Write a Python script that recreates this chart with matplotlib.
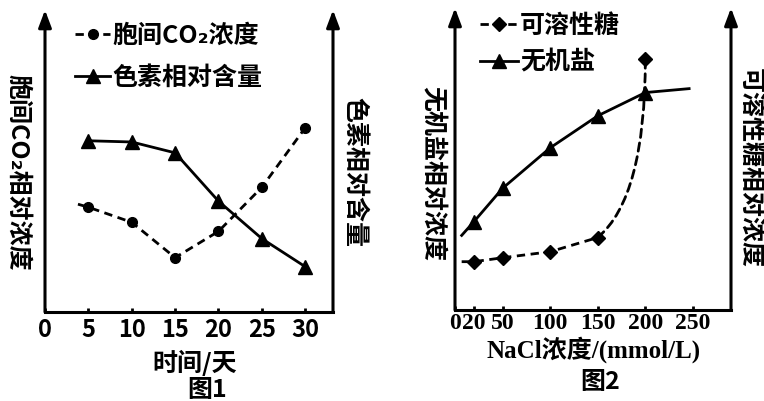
import matplotlib.pyplot as plt
from matplotlib.patches import FancyArrowPatch

plt.rcParams['font.family'] = ['Noto Sans CJK SC', 'DejaVu Sans']

# 图1: 时间/天
days = [5, 10, 15, 20, 25, 30]
co2_start = (3.8, 3.57)
co2 = [3.47, 2.97, 1.80, 2.67, 4.13, 6.10]
pigment = [5.67, 5.63, 5.27, 3.67, 2.43, 1.50]
day_ticks = [0, 5, 10, 15, 20, 25, 30]

# 图2: NaCl浓度
nacl = [20, 50, 100, 150, 200]
sugar_start = (7, 1.60)
sugar = [1.60, 1.73, 1.93, 2.40, 8.30]
salt_start = (7, 2.47)
salt = [2.93, 4.03, 5.37, 6.43, 7.20]
salt_end = (246, 7.33)
nacl_ticks = [0, 20, 50, 100, 150, 200, 250]

W, H = 764, 401
fig = plt.figure(figsize=(W / 100, H / 100), dpi=100)
ax1 = fig.add_axes([45 / W, 1 - 312 / H, (333 - 45) / W, (312 - 10) / H])
ax2 = fig.add_axes([455 / W, 1 - 310 / H, (731 - 455) / W, (310 - 8) / H])

LW = 2.0
cjk_bold = dict(family=['Noto Sans CJK SC', 'DejaVu Sans'], weight='bold')
serif_bold = dict(family=['Liberation Serif', 'Noto Sans CJK SC'], weight='bold')


def frame(ax):
    for s in ('top', 'left', 'right'):
        ax.spines[s].set_visible(False)
    ax.spines['bottom'].set_linewidth(2.2)
    for x in (0, 1):
        ax.annotate('', xy=(x, 1), xytext=(x, 0), xycoords='axes fraction',
                    arrowprops=dict(arrowstyle='-|>,head_length=0.8,head_width=0.3',
                                    lw=2.2, color='k', mutation_scale=13,
                                    shrinkA=0, shrinkB=0))
    ax.set_yticks([])
    ax.tick_params(axis='x', direction='in', length=3, width=2, pad=4)
    ax.set_ylim(0, 10)
    ax.patch.set_alpha(0)


# ---- 图1
frame(ax1)
ax1.set_xlim(0, 33.2)
ax1.plot([co2_start[0]] + days, [co2_start[1]] + co2, color='k', lw=LW,
         ls=(0, (3, 2)), marker='o', ms=7, markevery=list(range(1, 7)),
         label='胞间CO₂浓度', clip_on=False)
ax1.plot(days, pigment, color='k', lw=LW, marker='^', ms=10,
         label='色素相对含量', clip_on=False)
ax1.set_xticks(day_ticks)
ax1.set_xticklabels([str(d) for d in day_ticks], fontsize=17, **cjk_bold)
ax1.legend(loc='upper left', bbox_to_anchor=(75 / W, 1 - 24 / H),
           bbox_transform=fig.transFigure, frameon=False, borderpad=0,
           borderaxespad=0, handlelength=1.4, handletextpad=0.1,
           labelspacing=0.7, numpoints=1, prop=dict(size=18, **cjk_bold))

fig.text(18 / W, 1 - 172 / H, '胞间CO₂相对浓度', rotation=-90, ha='center',
         va='center', fontsize=18, **cjk_bold)
fig.text(355 / W, 1 - 172 / H, '色素相对含量', rotation=-90, ha='center',
         va='center', fontsize=18, **cjk_bold)
fig.text(195 / W, 1 - 363 / H, '时间/天', ha='center', va='center',
         fontsize=18, **cjk_bold)
fig.text(207 / W, 1 - 390 / H, '图1', ha='center', va='center',
         fontsize=18, **cjk_bold)

# ---- 图2
frame(ax2)
ax2.set_xlim(0, 290)
ax2.plot([sugar_start[0]] + nacl[:4], [sugar_start[1]] + sugar[:4], color='k',
         lw=LW, ls=(0, (3, 2)), marker='D', ms=7, markevery=[1, 2, 3, 4],
         label='可溶性糖', clip_on=False)
ax2.plot(nacl[4], sugar[4], color='k', marker='D', ms=7, ls='none')
# steep rise of soluble sugar between 150 and 200
rise = FancyArrowPatch((nacl[3], sugar[3]), (nacl[4], sugar[4]),
                       connectionstyle='angle3,angleA=40,angleB=90',
                       arrowstyle='-', lw=LW, color='k', linestyle=(0, (3, 2)),
                       shrinkA=0, shrinkB=0, transform=ax2.transData)
ax2.add_patch(rise)
ax2.plot([salt_start[0]] + nacl + [salt_end[0]],
         [salt_start[1]] + salt + [salt_end[1]], color='k', lw=LW,
         marker='^', ms=10, markevery=[1, 2, 3, 4, 5], label='无机盐',
         clip_on=False)
ax2.set_xticks(nacl_ticks)
ax2.set_xticklabels([str(v) for v in nacl_ticks], fontsize=17, **serif_bold)
ax2.tick_params(axis='x', pad=2)
ax2.legend(loc='upper left', bbox_to_anchor=(480 / W, 1 - 14 / H),
           bbox_transform=fig.transFigure, frameon=False, borderpad=0,
           borderaxespad=0, handlelength=1.5, handletextpad=0.1,
           labelspacing=0.5, numpoints=1, prop=dict(size=18, **cjk_bold))

fig.text(432 / W, 1 - 174 / H, '无机盐相对浓度', rotation=-90, ha='center',
         va='center', fontsize=18, **cjk_bold)
fig.text(750 / W, 1 - 168 / H, '可溶性糖相对浓度', rotation=-90, ha='center',
         va='center', fontsize=18, **cjk_bold)
fig.text(594 / W, 1 - 350 / H, 'NaCl浓度/(mmol/L)', ha='center', va='center',
         fontsize=18, **serif_bold)
fig.text(600 / W, 1 - 382 / H, '图2', ha='center', va='center',
         fontsize=18, **cjk_bold)

fig.savefig('out.png', dpi=100)
